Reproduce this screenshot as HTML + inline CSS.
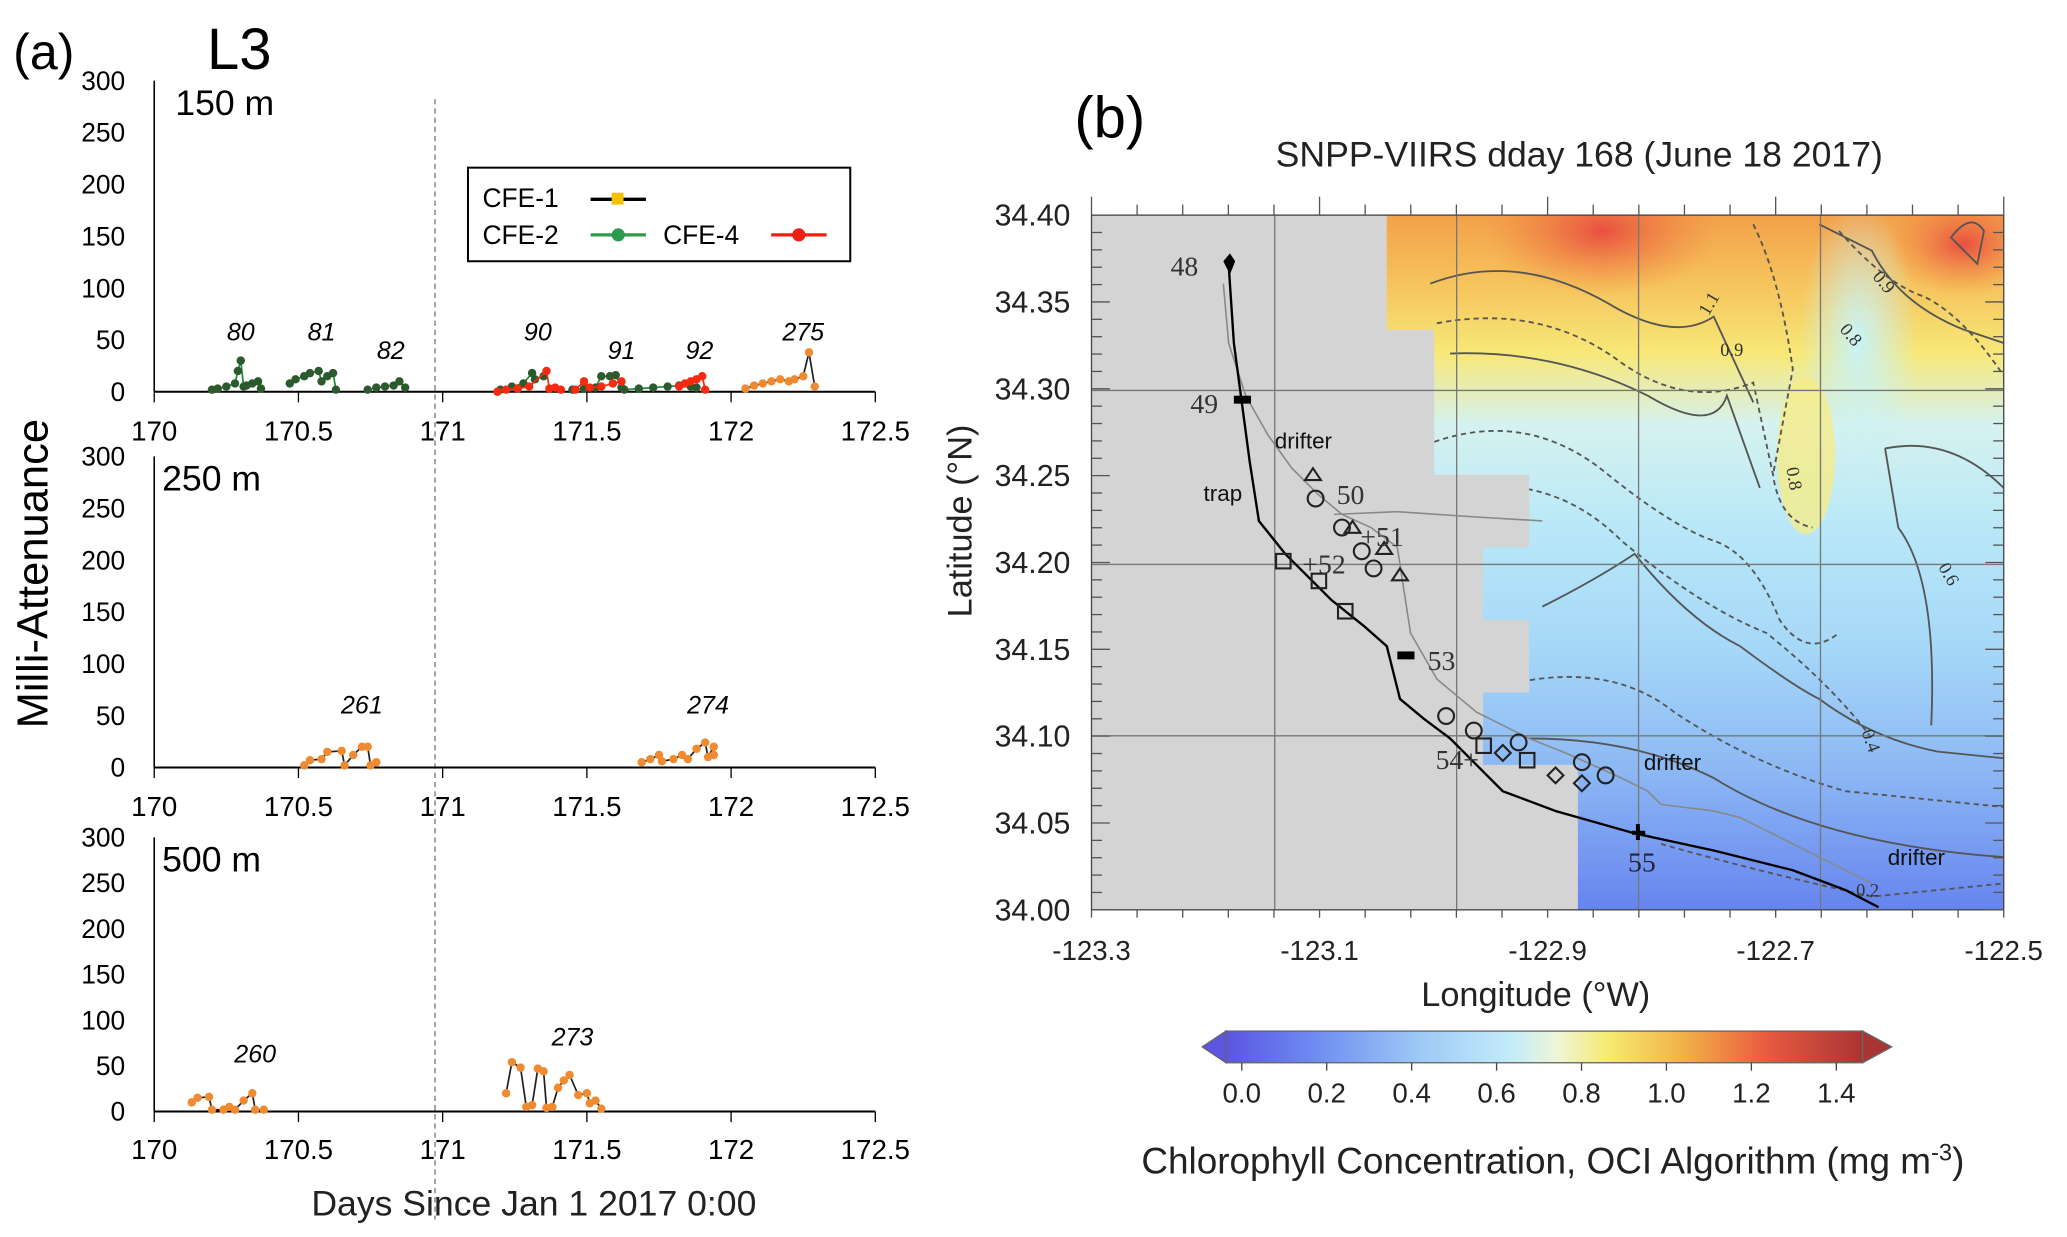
<!DOCTYPE html>
<html><head><meta charset="utf-8"><style>
html,body{margin:0;padding:0;background:#fff;}
svg{display:block;font-family:"Liberation Sans","DejaVu Sans",sans-serif;}
</style></head><body>
<svg id="fig" width="2067" height="1237" viewBox="0 0 1568 938" xmlns="http://www.w3.org/2000/svg">
<defs>
<linearGradient id="fieldG" x1="0" y1="0" x2="0" y2="1">
<stop offset="0" stop-color="#f3a04a"/><stop offset="0.1" stop-color="#f6c45c"/><stop offset="0.2" stop-color="#f7e878"/>
<stop offset="0.3" stop-color="#d6f2ee"/><stop offset="0.45" stop-color="#b8e8f8"/><stop offset="0.62" stop-color="#a6d8f8"/>
<stop offset="0.8" stop-color="#8cb8f4"/><stop offset="1" stop-color="#6684ee"/>
</linearGradient>
<radialGradient id="redA" cx="0.5" cy="0.5" r="0.5"><stop offset="0" stop-color="#e84a40" stop-opacity="0.95"/><stop offset="1" stop-color="#f08040" stop-opacity="0"/></radialGradient>
<radialGradient id="cyanT" cx="0.5" cy="0.5" r="0.5"><stop offset="0" stop-color="#c8f2f8" stop-opacity="1"/><stop offset="1" stop-color="#c8f2f8" stop-opacity="0"/></radialGradient>
<linearGradient id="cbG" x1="0" y1="0" x2="1" y2="0">
<stop offset="0" stop-color="#5b55e2"/><stop offset="0.14" stop-color="#6e8cf0"/><stop offset="0.3" stop-color="#9cc8f6"/>
<stop offset="0.45" stop-color="#c4ecf8"/><stop offset="0.52" stop-color="#eef6d8"/><stop offset="0.6" stop-color="#f6ea70"/>
<stop offset="0.72" stop-color="#f2b048"/><stop offset="0.85" stop-color="#e85a40"/><stop offset="1" stop-color="#a83434"/>
</linearGradient>
<clipPath id="mapClip"><rect x="828" y="163" width="692" height="527"/></clipPath>
</defs>

<text x="10" y="52" font-size="38">(a)</text>
<text x="157" y="52" font-size="44">L3</text>
<text x="815" y="104" font-size="44">(b)</text>
<text x="36" y="435" font-size="33" text-anchor="middle" transform="rotate(-90 36 435)">Milli-Attenuance</text>
<text x="405" y="922" font-size="27" text-anchor="middle" fill="#222">Days Since Jan 1 2017 0:00</text>
<line x1="330" y1="75" x2="330" y2="925" stroke="#777" stroke-width="1" stroke-dasharray="4,3"/>
<g id="panels"></g>

<g>
<rect x="355" y="127" width="290" height="71" fill="#fff" stroke="#000" stroke-width="1.5"/>
<text x="366" y="157" font-size="20">CFE-1</text>
<line x1="448" y1="151" x2="490" y2="151" stroke="#000" stroke-width="2.5"/><rect x="464" y="146" width="9" height="9" fill="#f5c000"/>
<text x="366" y="185" font-size="20">CFE-2</text>
<line x1="448" y1="178" x2="490" y2="178" stroke="#2e9a4e" stroke-width="2.5"/><circle cx="469" cy="178" r="5" fill="#2e9a4e"/>
<text x="503" y="185" font-size="20">CFE-4</text>
<line x1="585" y1="178" x2="627" y2="178" stroke="#f02010" stroke-width="2.5"/><circle cx="606" cy="178" r="5" fill="#f02010"/>
</g>

<!-- Panel b -->
<text x="1198" y="126" font-size="27" text-anchor="middle" fill="#222">SNPP-VIIRS dday 168 (June 18 2017)</text>
<g clip-path="url(#mapClip)">
<rect x="828" y="163" width="692" height="527" fill="url(#fieldG)"/>
<ellipse cx="1215" cy="175" rx="90" ry="50" fill="url(#redA)"/>
<ellipse cx="1490" cy="185" rx="60" ry="40" fill="url(#redA)"/>
<ellipse cx="1410" cy="260" rx="45" ry="110" fill="url(#cyanT)"/>
<ellipse cx="1370" cy="345" rx="22" ry="60" fill="#f6ec88" opacity="0.8"/>
<g fill="none" stroke="#555" stroke-width="1.4">
<path d="M1085 215 Q1150 190 1220 230 Q1270 260 1300 240 L1330 305"/>
<path d="M1090 245 Q1170 230 1230 275 Q1280 310 1330 290 L1345 360 Q1350 395 1375 400" stroke-dasharray="4,3"/>
<path d="M1100 268 Q1180 265 1250 300 Q1300 330 1310 300 L1335 370" />
<path d="M1088 335 Q1160 310 1220 360 Q1270 400 1300 410 Q1330 420 1350 470 Q1370 500 1395 480" stroke-dasharray="4,3"/>
<path d="M1110 370 Q1180 360 1230 410 Q1290 460 1340 480 Q1390 520 1420 560" stroke-dasharray="4,3"/>
<path d="M1170 460 Q1210 440 1240 420 Q1280 470 1320 490 Q1360 520 1380 530 Q1420 560 1470 570 L1520 575"/>
<path d="M1140 520 Q1220 500 1270 540 Q1330 580 1400 600 L1520 612" stroke-dasharray="4,3"/>
<path d="M1160 560 Q1240 560 1300 590 Q1380 640 1520 650"/>
<path d="M1260 640 Q1330 660 1420 680 L1520 670" stroke-dasharray="4,3"/>
<path d="M1430 340 L1440 400 Q1470 440 1465 550 M1430 340 Q1480 330 1520 370"/>
<path d="M1380 170 L1420 190 Q1440 230 1490 250 L1520 260"/>
<path d="M1395 175 Q1430 215 1460 225 Q1490 240 1520 285" stroke-dasharray="4,3"/>
<path d="M1480 180 Q1495 160 1505 175 L1500 200 Z"/>
<path d="M1330 170 Q1350 210 1360 280 L1345 360" stroke-dasharray="4,3"/>
</g>
<path d="M828 163 H1052 V250 H1088 V360 H1160 V415 H1125 V470 H1160 V525 H1125 V580 H1197 V690 H828 Z" fill="#d4d4d4"/>
<g stroke="#777" stroke-width="1">
<line x1="967" y1="163" x2="967" y2="690"/><line x1="1105" y1="163" x2="1105" y2="690"/>
<line x1="1243" y1="163" x2="1243" y2="690"/><line x1="1381" y1="163" x2="1381" y2="690"/>
<line x1="828" y1="296" x2="1520" y2="296"/><line x1="828" y1="428" x2="1520" y2="428"/><line x1="828" y1="558" x2="1520" y2="558"/>
</g>
<polyline fill="none" stroke="#888" stroke-width="1.2" points="928,215 932,260 945,300 962,330 980,355 1000,375 1018,390 1040,400 1060,415 1070,480 1090,515 1120,540 1160,560 1190,572 1230,590 1250,600 1260,610 1300,615 1320,620 1360,640 1400,660 1420,670"/>
<polyline fill="none" stroke="#888" stroke-width="1.2" points="1012,390 1060,388 1120,392 1170,395"/>
<polyline fill="none" stroke="#000" stroke-width="1.8" points="932,200 936,260 942,305 948,350 955,395 975,420 1010,455 1035,475 1052,490 1062,530 1080,545 1100,560 1120,580 1140,600 1180,615 1240,632 1300,645 1360,660 1400,675 1425,688"/>
<g fill="none" stroke="#222" stroke-width="1.6">
<circle cx="998" cy="378" r="6"/><circle cx="1018" cy="400" r="6"/><circle cx="1033" cy="418" r="6"/><circle cx="1042" cy="431" r="6"/>
<circle cx="1097" cy="543" r="6"/><circle cx="1118" cy="554" r="6"/><circle cx="1152" cy="563" r="6"/><circle cx="1200" cy="578" r="6"/><circle cx="1218" cy="588" r="6"/>
<rect x="968" y="420" width="11" height="11"/><rect x="995" y="435" width="11" height="11"/><rect x="1015" y="458" width="11" height="11"/><rect x="1120" y="560" width="11" height="11"/><rect x="1153" y="571" width="11" height="11"/>
<path d="M990 364 l6 -9 l6 9 Z M1020 404 l6 -9 l6 9 Z M1044 420 l6 -9 l6 9 Z M1056 440 l6 -9 l6 9 Z"/>
<path d="M1140 565 l6 6 l-6 6 l-6 -6 Z M1180 582 l6 6 l-6 6 l-6 -6 Z M1200 588 l6 6 l-6 6 l-6 -6 Z"/>
</g>
<g fill="#000"><rect x="936" y="300" width="13" height="6"/><rect x="1060" y="494" width="13" height="6"/><path d="M1238 630 h10 v3 h-10 Z M1241 625 h3 v12 h-3Z M928 198 l5 -6 l4 6 l-4 10 Z"/></g>
<g font-family="Liberation Serif,serif" font-size="21" fill="#333">
<text x="888" y="209">48</text><text x="903" y="313">49</text><text x="1014" y="382">50</text><text x="1032" y="414">+51</text>
<text x="988" y="435">+52</text><text x="1083" y="508">53</text><text x="1089" y="583">54+</text><text x="1235" y="661" fill="#223">55</text>
<text x="1296" y="240" font-size="14" transform="rotate(-60 1296 240)">1.1</text><text x="1305" y="270" font-size="14">0.9</text>
<text x="1420" y="210" font-size="14" transform="rotate(50 1420 210)">0.9</text><text x="1395" y="250" font-size="14" transform="rotate(50 1395 250)">0.8</text>
<text x="1355" y="355" font-size="14" transform="rotate(80 1355 355)">0.8</text><text x="1470" y="430" font-size="14" transform="rotate(60 1470 430)">0.6</text>
<text x="1412" y="555" font-size="14" transform="rotate(70 1412 555)">0.4</text><text x="1408" y="680" font-size="14">0.2</text>
</g>
<g font-size="17" fill="#111"><text x="967" y="340">drifter</text><text x="913" y="380">trap</text><text x="1247" y="584">drifter</text><text x="1432" y="656">drifter</text></g>
</g>
<rect x="828" y="163" width="692" height="527" fill="none" stroke="#444" stroke-width="1"/>
<g id="mapAxes"></g>
<text x="1165" y="763" font-size="26" text-anchor="middle" fill="#222">Longitude (°W)</text>
<text x="737" y="395" font-size="26" text-anchor="middle" fill="#222" transform="rotate(-90 737 395)">Latitude (°N)</text>

<g>
<rect x="930" y="782" width="483" height="24" fill="url(#cbG)" stroke="#666" stroke-width="1"/>
<path d="M930 782 L912 794 L930 806 Z" fill="#5b55e2" stroke="#666"/>
<path d="M1413 782 L1435 794 L1413 806 Z" fill="#a83434" stroke="#666"/>
<g id="cbTicks"></g>
</g>
<text x="1178" y="890" font-size="28" text-anchor="middle" fill="#222">Chlorophyll Concentration, OCI Algorithm (mg m<tspan dy="-10" font-size="18">-3</tspan><tspan dy="10">)</tspan></text>

<script>
// ---- Panel (a) data ----
const xTicks = [170, 170.5, 171, 171.5, 172, 172.5];
const xTickLabels = ["170","170.5","171","171.5","172","172.5"];
const yTicks = [0, 50, 100, 150, 200, 250, 300];
const depthLabels = ["150 m", "250 m", "500 m"];
// 150 m
const g80Days = [170.2,170.22,170.25,170.28,170.29,170.3,170.31,170.32,170.34,170.36,170.37];
const g80Vals = [2,3,5,8,20,30,5,6,8,10,3];
const g81Days = [170.47,170.49,170.52,170.54,170.57,170.58,170.6,170.62,170.63];
const g81Vals = [8,12,15,18,20,10,15,18,2];
const g82Days = [170.74,170.77,170.8,170.83,170.85,170.87];
const g82Vals = [2,4,5,6,10,4];
const g90Days = [171.2,171.24,171.28,171.31,171.32,171.35];
const g90Vals = [2,5,8,18,12,15];
const r90Days = [171.19,171.22,171.26,171.3,171.36,171.37,171.39,171.41];
const r90Vals = [0,2,3,5,20,3,4,2];
const g91Days = [171.45,171.49,171.53,171.55,171.58,171.6,171.62];
const g91Vals = [2,3,4,15,15,16,4];
const r91Days = [171.46,171.49,171.51,171.55,171.59,171.62];
const r91Vals = [2,10,4,5,8,10];
const g92Days = [171.63,171.68,171.73,171.78,171.82,171.86,171.88];
const g92Vals = [2,3,4,5,6,5,4];
const r92Days = [171.82,171.84,171.86,171.88,171.9,171.91];
const r92Vals = [5,8,10,12,15,2];
const o275Days = [172.05,172.08,172.11,172.14,172.17,172.2,172.22,172.25,172.27,172.29];
const o275Vals = [3,6,8,10,12,10,12,15,38,5];
// 250 m
const o261Days = [170.52,170.54,170.58,170.6,170.65,170.66,170.69,170.72,170.74,170.75,170.77];
const o261Vals = [2,7,8,15,16,2,12,20,20,2,5];
const o274Days = [171.69,171.72,171.75,171.76,171.8,171.83,171.85,171.88,171.91,171.92,171.94,171.94];
const o274Vals = [5,8,12,6,8,12,8,18,24,10,20,12];
// 500 m
const o260Days = [170.13,170.15,170.19,170.2,170.24,170.26,170.28,170.31,170.34,170.35,170.38];
const o260Vals = [10,15,16,2,2,5,2,12,20,2,2];
const o273Days = [171.22,171.24,171.27,171.29,171.31,171.33,171.35,171.36,171.38,171.4,171.42,171.44,171.47,171.5,171.51,171.53,171.55];
const o273Vals = [20,54,48,5,7,47,44,4,5,26,34,40,18,20,9,12,3];

const panels = [
 {y0:297, y300:61, tickY:327, series:[
   [g80Days,g80Vals,"#2d5a2d","#1f8a3e",80,170.3,258],[g81Days,g81Vals,"#2d5a2d","#1f8a3e",81,170.58,258],[g82Days,g82Vals,"#2d5a2d","#1f8a3e",82,170.82,272],
   [g90Days,g90Vals,"#2d5a2d","#1f8a3e",90,171.33,258],[r90Days,r90Vals,"#f52a10","#f52a10",null],
   [g91Days,g91Vals,"#2d5a2d","#1f8a3e",91,171.62,272],[r91Days,r91Vals,"#f52a10","#f52a10",null],
   [g92Days,g92Vals,"#2d5a2d","#1f8a3e",92,171.89,272],[r92Days,r92Vals,"#f52a10","#f52a10",null],
   [o275Days,o275Vals,"#222","#f08a30",275,172.25,258]]},
 {y0:582, y300:346, tickY:612, series:[[o261Days,o261Vals,"#222","#f08a30",261,170.72,541],[o274Days,o274Vals,"#222","#f08a30",274,171.92,541]]},
 {y0:843, y300:635, tickY:872, series:[[o260Days,o260Vals,"#222","#f08a30",260,170.35,806],[o273Days,o273Vals,"#222","#f08a30",273,171.45,793]]}
];
const NS="http://www.w3.org/2000/svg";
function el(tag, attrs, parent){const e=document.createElementNS(NS,tag);for(const k in attrs)e.setAttribute(k,attrs[k]);parent.appendChild(e);return e;}
const xScale = d => 117 + (d-170)/2.5*547;
const root=document.getElementById('panels');
const colorName = {"#2d5a2d":"cfe2","#f52a10":"cfe4","#222":"cfe1"};
panels.forEach((p,pi)=>{
  const yS = v => p.y0 + (p.y300-p.y0)*v/300;
  const g=el('g',{},root);
  
  
  const ya=el('line',{x1:117,y1:p.y300,x2:117,y2:p.y0,stroke:'#000','stroke-width':1.2},g);
  
  
  const xa=el('line',{x1:117,y1:p.y0,x2:664,y2:p.y0,stroke:'#000','stroke-width':1.5},g);
  
  
  yTicks.forEach(v=>{const t=el('text',{x:95,y:yS(v)+7,'font-size':20,'text-anchor':'end'},g);t.textContent=v;
    
    });
  xTicks.forEach((d,i)=>{el('line',{x1:xScale(d),y1:p.y0,x2:xScale(d),y2:p.y0+8,stroke:'#000'},g);
    const t=el('text',{x:xScale(d),y:p.tickY+7,'font-size':21,'text-anchor':'middle'},g);t.textContent=xTickLabels[i];
    
    });
  const dl=el('text',{x:pi==0?133:123,y:p.y300+26,'font-size':27},g);dl.textContent=depthLabels[pi];
  
  
  p.series.forEach(s=>{
    const [days,vals,lc,mc,lab,lx,ly]=s;
    const sg=el('g',{},g);
    
    
    el('polyline',{points:days.map((d,i)=>xScale(d)+','+yS(vals[i])).join(' '),fill:'none',stroke:lc==="#2d5a2d"?"#1f8a3e":lc,'stroke-width':1.3},sg);
    days.forEach((d,i)=>{const c=el('circle',{cx:xScale(d),cy:yS(vals[i]),r:3.2,fill:lc==="#2d5a2d"?"#2d5a2d":mc},sg);
      
      });
    if(lab){const t=el('text',{x:xScale(lx),y:ly,'font-size':19,'font-style':'italic','text-anchor':'middle'},g);t.textContent=lab;
      
      }
  });
});

// ---- Panel (b) axes ----
const latTicks=[34.40,34.35,34.30,34.25,34.20,34.15,34.10,34.05,34.00];
const lonTicks=[-123.3,-123.1,-122.9,-122.7,-122.5];
const cbTicks=[0.0,0.2,0.4,0.6,0.8,1.0,1.2,1.4];
const latY = v => 690-(v-34.0)/0.4*527;
const lonX = v => 828+(v+123.3)/0.8*692;
const ma=document.getElementById('mapAxes');
latTicks.forEach(v=>{const t=el('text',{x:812,y:latY(v)+8,'font-size':23,'text-anchor':'end',fill:'#222'},ma);t.textContent=v.toFixed(2);
  
  });
for(let i=0;i<=40;i++){const y=163+i*527/40;const L=(i%5==0)?14:8;
  el('line',{x1:828,y1:y,x2:828+L,y2:y,stroke:'#555'},ma);el('line',{x1:1520-L,y1:y,x2:1520,y2:y,stroke:'#555'},ma);}
for(let i=0;i<=20;i++){const x=828+i*692/20;const L=(i%5==0)?14:8;
  el('line',{x1:x,y1:163-L,x2:x,y2:163,stroke:'#555'},ma);el('line',{x1:x,y1:690,x2:x,y2:690+6,stroke:'#555'},ma);}
lonTicks.forEach(v=>{const t=el('text',{x:lonX(v),y:728,'font-size':21,'text-anchor':'middle',fill:'#222'},ma);t.textContent=v.toFixed(1);
  
  });
const cb=document.getElementById('cbTicks');
const cbX = v => 942+v/1.4*451;
cbTicks.forEach(v=>{el('line',{x1:cbX(v),y1:806,x2:cbX(v),y2:812,stroke:'#444'},cb);
  const t=el('text',{x:cbX(v),y:836,'font-size':21,'text-anchor':'middle',fill:'#222'},cb);t.textContent=v.toFixed(1);
  
  });
</script>
</svg>
</body></html>
